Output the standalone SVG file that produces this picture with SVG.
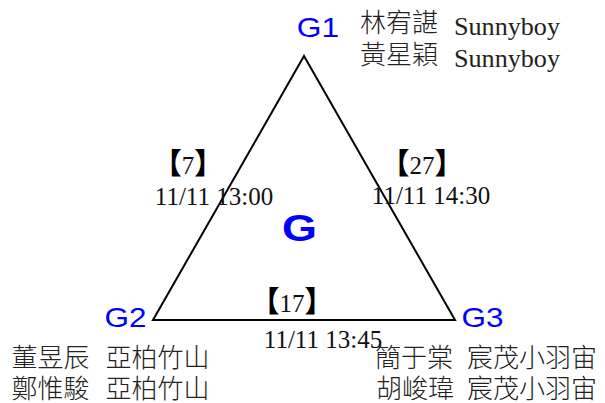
<svg xmlns="http://www.w3.org/2000/svg" width="605" height="403" viewBox="0 0 605 403">
<style>
.g{font-family:"Liberation Sans",Arial,sans-serif;fill:#0000FF;font-size:28px}
.gb{font-family:"Liberation Sans",Arial,sans-serif;fill:#0000FF;font-size:37px;font-weight:bold}
.cjk{font-family:"Noto Sans CJK TC","Noto Sans CJK SC",sans-serif;font-size:26px;font-weight:300;fill:#222}
.lat{font-family:"Liberation Serif","Times New Roman",serif;font-size:26px;fill:#222}
.lbl{font-family:"Liberation Serif","Noto Sans CJK TC",serif;font-size:25px;fill:#111;text-anchor:middle}
.br{font-family:"Noto Sans CJK TC","Noto Sans CJK SC",sans-serif;font-size:29px;font-weight:900;fill:#000}
.edge{fill:none;stroke:#000;stroke-width:2;stroke-linejoin:miter}
</style>
<rect width="605" height="403" fill="#fff"/>
<g id="connectors">
<path class="edge" d="M304,56 L153,320 L455,320 Z"/>
<text class="lbl" x="188" y="174"><tspan class="br">【</tspan>7<tspan class="br">】</tspan></text>
<text class="lbl" x="214" y="205">11/11 13:00</text>
<text class="lbl" x="422" y="174"><tspan class="br">【</tspan>27<tspan class="br">】</tspan></text>
<text class="lbl" x="431" y="203.5">11/11 14:30</text>
<text class="lbl" x="292" y="312"><tspan class="br">【</tspan>17<tspan class="br">】</tspan></text>
<text class="lbl" x="323" y="348">11/11 13:45</text>
</g>
<g id="G">
<text class="gb" x="282" y="241" textLength="35" lengthAdjust="spacingAndGlyphs">G</text>
</g>
<g id="G1">
<text class="g" x="296.8" y="37" textLength="42.4" lengthAdjust="spacingAndGlyphs">G1</text>
<text class="cjk" x="360" y="32">林宥諶</text>
<text class="lat" x="454" y="35.3" textLength="106" lengthAdjust="spacingAndGlyphs">Sunnyboy</text>
<text class="cjk" x="360" y="64">黃星穎</text>
<text class="lat" x="454" y="67.3" textLength="106" lengthAdjust="spacingAndGlyphs">Sunnyboy</text>
</g>
<g id="G2">
<text class="g" x="104.5" y="327" textLength="42" lengthAdjust="spacingAndGlyphs">G2</text>
<text class="cjk" x="11.5" y="367">董昱辰</text>
<text class="cjk" x="105.5" y="367">亞柏竹山</text>
<text class="cjk" x="11.5" y="397.5">鄭惟駿</text>
<text class="cjk" x="105.5" y="397.5">亞柏竹山</text>
</g>
<g id="G3">
<text class="g" x="461.5" y="327" textLength="42" lengthAdjust="spacingAndGlyphs">G3</text>
<text class="cjk" x="375" y="367">簡于棠</text>
<text class="cjk" x="467" y="367">宸茂小羽宙</text>
<text class="cjk" x="376" y="397.5">胡峻瑋</text>
<text class="cjk" x="467" y="397.5">宸茂小羽宙</text>
</g>
</svg>
